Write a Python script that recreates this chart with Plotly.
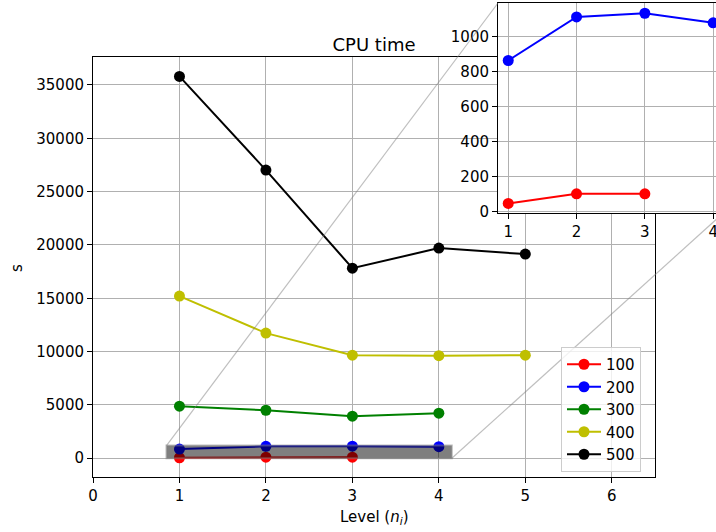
import plotly.graph_objects as go

# ---- data ----
levels = [1, 2, 3, 4, 5]
series_names = ["100", "200", "300", "400", "500"]
cpu_100 = [46, 101, 101]
cpu_200 = [863, 1112, 1133, 1078]
cpu_300 = [4880, 4500, 3940, 4220]
cpu_400 = [15200, 11730, 9660, 9620, 9660]
cpu_500 = [35800, 27020, 17820, 19700, 19140]
colors = ["#ff0000", "#0000ff", "#008000", "#bfbf00", "#000000"]
all_series = [cpu_100, cpu_200, cpu_300, cpu_400, cpu_500]
main_xticks = [0, 1, 2, 3, 4, 5, 6]
main_yticks = [0, 5000, 10000, 15000, 20000, 25000, 30000, 35000]
inset_xticks = [1, 2, 3, 4]
inset_yticks = [0, 200, 400, 600, 800, 1000]

# ---- geometry (pixels of a 716x532 figure) ----
W, H = 716, 532
FONT = "DejaVu Sans"
main_px = dict(l=93, r=655, t=57, b=477)
inset_px = dict(l=498, r=716, t=3, b=213)
main_xrange = [0, 6.5]
main_yrange = [-1760, 37620]
inset_xlim = [0.85, 4.15]           # zoom region (inset limits)
inset_ylim = [-8.5, 1191.5]
inset_unit_px = 68.3                 # px per x unit in the inset
inset_xrange = [inset_xlim[0], inset_xlim[0] + (inset_px["r"] - inset_px["l"]) / inset_unit_px]


def dom_x(px):
    return [px["l"] / W, px["r"] / W]


def dom_y(px):
    return [1 - px["b"] / H, 1 - px["t"] / H]


main_dx, main_dy = dom_x(main_px), dom_y(main_px)
inset_dx, inset_dy = dom_x(inset_px), dom_y(inset_px)


def to_paper(x, y, dx, dy, xr, yr):
    px = dx[0] + (x - xr[0]) / (xr[1] - xr[0]) * (dx[1] - dx[0])
    py = dy[0] + (y - yr[0]) / (yr[1] - yr[0]) * (dy[1] - dy[0])
    return px, py


fig = go.Figure()

for name, vals, col in zip(series_names, all_series, colors):
    fig.add_trace(go.Scatter(
        x=levels[:len(vals)], y=vals, name=name, mode="lines+markers",
        line=dict(color=col, width=2), marker=dict(color=col, size=11),
        xaxis="x", yaxis="y"))

for name, vals, col in zip(series_names[:2], all_series[:2], colors[:2]):
    fig.add_trace(go.Scatter(
        x=levels[:len(vals)], y=vals, name=name, mode="lines+markers",
        line=dict(color=col, width=2), marker=dict(color=col, size=11),
        xaxis="x2", yaxis="y2", showlegend=False))

axis_common = dict(
    showline=True, linecolor="black", linewidth=1, mirror=True,
    showgrid=True, gridcolor="#b0b0b0", gridwidth=1,
    ticks="outside", ticklen=5, tickwidth=1, tickcolor="black",
    tickfont=dict(family=FONT, size=15, color="black"),
    tickformat="d", ticklabeloverflow="allow",
    zeroline=False, automargin=False,
)

fig.update_layout(
    width=W, height=H,
    margin=dict(l=0, r=0, t=0, b=0),
    paper_bgcolor="white", plot_bgcolor="white",
    font=dict(family=FONT, size=15, color="black"),
    title=dict(text="CPU time", x=374 / W, xanchor="center",
               y=1 - 45 / H, yanchor="middle",
               font=dict(family=FONT, size=18, color="black")),
    xaxis=dict(domain=main_dx, range=main_xrange, tickvals=main_xticks, **axis_common),
    yaxis=dict(domain=main_dy, range=main_yrange, tickvals=main_yticks, **axis_common),
    xaxis2=dict(domain=inset_dx, range=inset_xrange, tickvals=inset_xticks,
                anchor="y2", **axis_common),
    yaxis2=dict(domain=inset_dy, range=inset_ylim, tickvals=inset_yticks,
                anchor="x2", **axis_common),
    showlegend=True,
    legend=dict(x=561 / W, y=1 - 347 / H, xanchor="left", yanchor="top",
                bgcolor="rgba(255,255,255,0.8)", bordercolor="#cccccc", borderwidth=1,
                font=dict(family=FONT, size=15, color="black"),
                itemwidth=34, tracegroupgap=0),
)

# axis titles
fig.add_annotation(text="Level (<i>n<sub>i</sub></i>)", xref="paper", yref="paper",
                   x=374 / W, y=1 - 517 / H, showarrow=False,
                   font=dict(family=FONT, size=15, color="black"),
                   xanchor="center", yanchor="middle")
fig.add_annotation(text="s", xref="paper", yref="paper", textangle=-90,
                   x=17 / W, y=1 - 268 / H, showarrow=False,
                   font=dict(family=FONT, size=15, color="black"),
                   xanchor="center", yanchor="middle")

# white background of the inset, covering the main plot below it
fig.add_shape(type="rect", xref="x2", yref="y2",
              x0=inset_xrange[0], x1=inset_xrange[1], y0=inset_ylim[0], y1=inset_ylim[1],
              fillcolor="white", line=dict(width=0), layer="below")

# zoom indicator rectangle in main axes
fig.add_shape(type="rect", xref="x", yref="y",
              x0=inset_xlim[0], x1=inset_xlim[1], y0=inset_ylim[0], y1=inset_ylim[1],
              fillcolor="rgba(0,0,0,0.5)", line=dict(color="rgba(128,128,128,0.5)", width=2),
              layer="above")

# connector lines
r_tl = to_paper(inset_xlim[0], inset_ylim[1], main_dx, main_dy, main_xrange, main_yrange)
r_br = to_paper(inset_xlim[1], inset_ylim[0], main_dx, main_dy, main_xrange, main_yrange)
i_tl = to_paper(inset_xlim[0], inset_ylim[1], inset_dx, inset_dy, inset_xrange, inset_ylim)
i_br = to_paper(inset_xlim[1], inset_ylim[0], inset_dx, inset_dy, inset_xrange, inset_ylim)
for a, b in [(r_tl, i_tl), (r_br, i_br)]:
    fig.add_shape(type="line", xref="paper", yref="paper",
                  x0=a[0], y0=a[1], x1=b[0], y1=b[1],
                  line=dict(color="rgba(128,128,128,0.5)", width=1.2), layer="above")

fig.write_html("out.html", config={"displayModeBar": False},
               post_script="document.body.style.margin='0';")
